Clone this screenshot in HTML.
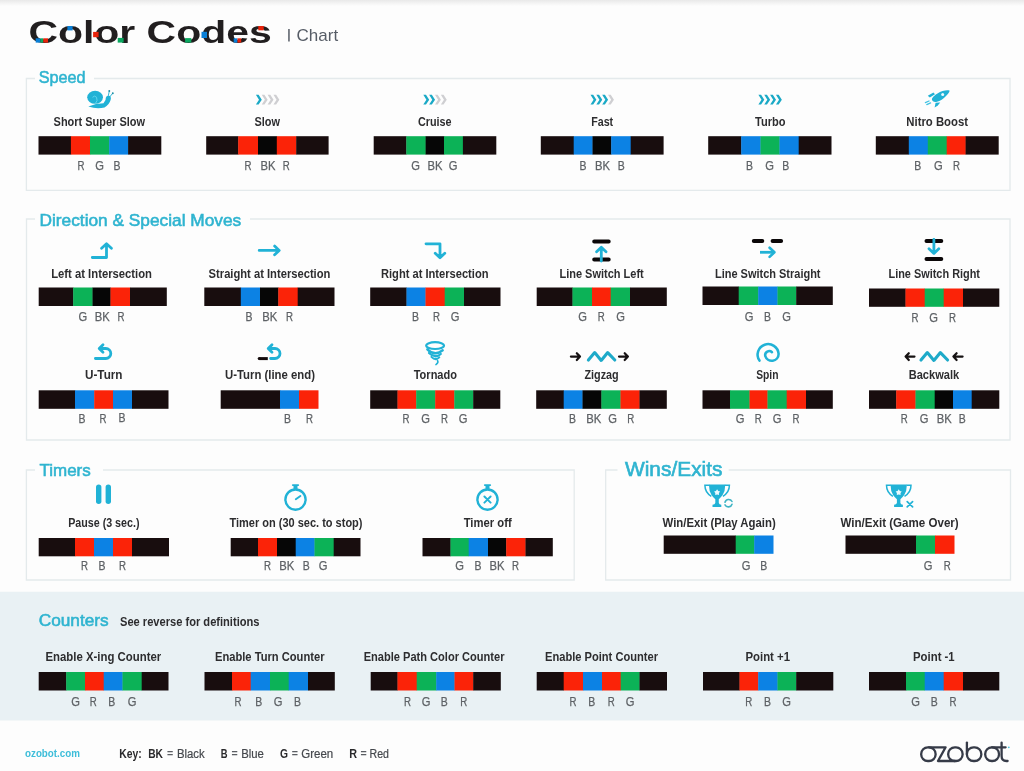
<!DOCTYPE html>
<html><head><meta charset="utf-8"><title>Color Codes Chart</title>
<style>
html,body{margin:0;padding:0;background:#fdfdfd;}
body{width:1024px;height:771px;overflow:hidden;font-family:"Liberation Sans",sans-serif;}
svg{display:block;position:absolute;left:-8px;top:-8px;will-change:transform;filter:blur(0.45px);}
text{font-family:"Liberation Sans",sans-serif;}
.lb{font-size:12px;font-weight:bold;fill:#2d2d2f;}
.lt{font-size:12px;fill:#5e6266;stroke:#5e6266;stroke-width:0.25px;}
.st{font-size:16.2px;fill:#2fb4d0;stroke:#2fb4d0;stroke-width:0.55px;}
.st2{font-size:19.8px;fill:#2fb4d0;stroke:#2fb4d0;stroke-width:0.6px;}
.kb{font-size:12px;font-weight:bold;fill:#2a2a2c;}
.kr{font-size:12px;fill:#45484d;stroke:#45484d;stroke-width:0.2px;}
.ke{font-size:10px;font-weight:bold;fill:#5a5d62;}
.oz{font-size:10.3px;font-weight:bold;fill:#3dbdd9;}
.ch{font-size:15.7px;fill:#565c66;}
.tt{font-size:31px;font-weight:bold;fill:#211e1f;}
</style></head><body>
<svg width="1040" height="787" viewBox="-8 -8 1040 787">
<defs><linearGradient id="tg" x1="0" y1="0" x2="0" y2="1"><stop offset="0" stop-color="#e9e9e9"/><stop offset="1" stop-color="#fdfdfd"/></linearGradient></defs>
<rect x="-8" y="-8" width="1040" height="787" fill="#fdfdfd"/>
<rect x="-8" y="-8" width="1040" height="8.2" fill="#e9e9e9"/>
<rect x="-8" y="0" width="1040" height="6" fill="url(#tg)"/>
<rect x="-8" y="591.75" width="1040" height="128.75" fill="#e9f1f4"/>
<path d="M35 78.5 H26.4 V190.3 H1010 V78.5 H94" fill="none" stroke="#e4eaec" stroke-width="1.3"/>
<path d="M35 219 H26.5 V440 H1010 V219 H250" fill="none" stroke="#e4eaec" stroke-width="1.3"/>
<path d="M35 470 H26.4 V580 H574.2 V470 H103" fill="none" stroke="#e4eaec" stroke-width="1.3"/>
<path d="M617.5 470 H605.7 V580 H1010.5 V470 H728.7" fill="none" stroke="#e4eaec" stroke-width="1.3"/>
<text class="st" x="38.70" y="82.75" textLength="46.90" lengthAdjust="spacingAndGlyphs">Speed</text>
<text class="st" x="39.50" y="225.75" textLength="201.70" lengthAdjust="spacingAndGlyphs">Direction &amp; Special Moves</text>
<text class="st" x="39.50" y="475.75" textLength="51.20" lengthAdjust="spacingAndGlyphs">Timers</text>
<text class="st2" x="625.00" y="475.50" textLength="97.50" lengthAdjust="spacingAndGlyphs">Wins/Exits</text>
<text class="st" x="38.70" y="626.25" textLength="70.00" lengthAdjust="spacingAndGlyphs">Counters</text>
<text class="lb" x="120.00" y="626.25" textLength="139.50" lengthAdjust="spacingAndGlyphs">See reverse for definitions</text>
<rect x="288.2" y="29" width="1.5" height="12.5" fill="#565c66"/>
<text class="ch" x="296.60" y="41.30" textLength="41.60" lengthAdjust="spacingAndGlyphs">Chart</text>
<rect x="38.50" y="136.20" width="32.70" height="18.40" fill="#180d0e"/>
<rect x="70.90" y="136.20" width="19.40" height="18.40" fill="#fb2308"/>
<rect x="90.00" y="136.20" width="19.50" height="18.40" fill="#0cb257"/>
<rect x="109.20" y="136.20" width="19.20" height="18.40" fill="#0c82e4"/>
<rect x="128.10" y="136.20" width="33.20" height="18.40" fill="#180d0e"/>
<text class="lt" x="77.60" y="170.20" textLength="7.00" lengthAdjust="spacingAndGlyphs">R</text>
<text class="lt" x="95.35" y="170.20" textLength="8.70" lengthAdjust="spacingAndGlyphs">G</text>
<text class="lt" x="113.50" y="170.20" textLength="7.00" lengthAdjust="spacingAndGlyphs">B</text>
<rect x="206.20" y="136.20" width="32.30" height="18.40" fill="#180d0e"/>
<rect x="238.20" y="136.20" width="20.10" height="18.40" fill="#fb2308"/>
<rect x="258.00" y="136.20" width="19.10" height="18.40" fill="#060606"/>
<rect x="276.80" y="136.20" width="19.70" height="18.40" fill="#fb2308"/>
<rect x="296.20" y="136.20" width="32.40" height="18.40" fill="#180d0e"/>
<text class="lt" x="244.50" y="170.20" textLength="7.00" lengthAdjust="spacingAndGlyphs">R</text>
<text class="lt" x="260.50" y="170.20" textLength="15.00" lengthAdjust="spacingAndGlyphs">BK</text>
<text class="lt" x="282.70" y="170.20" textLength="7.00" lengthAdjust="spacingAndGlyphs">R</text>
<rect x="373.70" y="136.20" width="32.90" height="18.40" fill="#180d0e"/>
<rect x="406.30" y="136.20" width="19.60" height="18.40" fill="#0cb257"/>
<rect x="425.60" y="136.20" width="18.70" height="18.40" fill="#060606"/>
<rect x="444.00" y="136.20" width="19.20" height="18.40" fill="#0cb257"/>
<rect x="462.90" y="136.20" width="33.40" height="18.40" fill="#180d0e"/>
<text class="lt" x="411.35" y="170.20" textLength="8.70" lengthAdjust="spacingAndGlyphs">G</text>
<text class="lt" x="427.50" y="170.20" textLength="15.00" lengthAdjust="spacingAndGlyphs">BK</text>
<text class="lt" x="448.85" y="170.20" textLength="8.70" lengthAdjust="spacingAndGlyphs">G</text>
<rect x="540.80" y="136.20" width="33.20" height="18.40" fill="#180d0e"/>
<rect x="573.70" y="136.20" width="19.10" height="18.40" fill="#0c82e4"/>
<rect x="592.50" y="136.20" width="19.00" height="18.40" fill="#060606"/>
<rect x="611.20" y="136.20" width="19.80" height="18.40" fill="#0c82e4"/>
<rect x="630.70" y="136.20" width="32.90" height="18.40" fill="#180d0e"/>
<text class="lt" x="579.50" y="170.20" textLength="7.00" lengthAdjust="spacingAndGlyphs">B</text>
<text class="lt" x="595.00" y="170.20" textLength="15.00" lengthAdjust="spacingAndGlyphs">BK</text>
<text class="lt" x="617.70" y="170.20" textLength="7.00" lengthAdjust="spacingAndGlyphs">B</text>
<rect x="708.20" y="136.20" width="33.30" height="18.40" fill="#180d0e"/>
<rect x="741.20" y="136.20" width="19.60" height="18.40" fill="#0c82e4"/>
<rect x="760.50" y="136.20" width="19.30" height="18.40" fill="#0cb257"/>
<rect x="779.50" y="136.20" width="19.50" height="18.40" fill="#0c82e4"/>
<rect x="798.70" y="136.20" width="32.80" height="18.40" fill="#180d0e"/>
<text class="lt" x="746.00" y="170.20" textLength="7.00" lengthAdjust="spacingAndGlyphs">B</text>
<text class="lt" x="765.15" y="170.20" textLength="8.70" lengthAdjust="spacingAndGlyphs">G</text>
<text class="lt" x="782.20" y="170.20" textLength="7.00" lengthAdjust="spacingAndGlyphs">B</text>
<rect x="875.80" y="136.20" width="33.30" height="18.40" fill="#180d0e"/>
<rect x="908.80" y="136.20" width="19.30" height="18.40" fill="#0c82e4"/>
<rect x="927.80" y="136.20" width="19.20" height="18.40" fill="#0cb257"/>
<rect x="946.70" y="136.20" width="19.20" height="18.40" fill="#fb2308"/>
<rect x="965.60" y="136.20" width="33.10" height="18.40" fill="#180d0e"/>
<text class="lt" x="914.20" y="170.20" textLength="7.00" lengthAdjust="spacingAndGlyphs">B</text>
<text class="lt" x="933.95" y="170.20" textLength="8.70" lengthAdjust="spacingAndGlyphs">G</text>
<text class="lt" x="952.90" y="170.20" textLength="7.00" lengthAdjust="spacingAndGlyphs">R</text>
<text class="lb" x="53.60" y="125.80" textLength="91.40" lengthAdjust="spacingAndGlyphs">Short Super Slow</text>
<text class="lb" x="254.50" y="125.80" textLength="25.50" lengthAdjust="spacingAndGlyphs">Slow</text>
<text class="lb" x="418.00" y="125.80" textLength="33.60" lengthAdjust="spacingAndGlyphs">Cruise</text>
<text class="lb" x="591.20" y="125.80" textLength="22.00" lengthAdjust="spacingAndGlyphs">Fast</text>
<text class="lb" x="755.00" y="125.80" textLength="30.50" lengthAdjust="spacingAndGlyphs">Turbo</text>
<text class="lb" x="906.30" y="125.80" textLength="61.70" lengthAdjust="spacingAndGlyphs">Nitro Boost</text>
<rect x="38.70" y="287.50" width="34.80" height="18.50" fill="#180d0e"/>
<rect x="73.20" y="287.50" width="19.60" height="18.50" fill="#0cb257"/>
<rect x="92.50" y="287.50" width="18.30" height="18.50" fill="#060606"/>
<rect x="110.50" y="287.50" width="19.80" height="18.50" fill="#fb2308"/>
<rect x="130.00" y="287.50" width="36.80" height="18.50" fill="#180d0e"/>
<text class="lt" x="78.55" y="321.25" textLength="8.70" lengthAdjust="spacingAndGlyphs">G</text>
<text class="lt" x="94.70" y="321.25" textLength="15.00" lengthAdjust="spacingAndGlyphs">BK</text>
<text class="lt" x="117.50" y="321.25" textLength="7.00" lengthAdjust="spacingAndGlyphs">R</text>
<rect x="204.30" y="287.50" width="36.80" height="18.50" fill="#180d0e"/>
<rect x="240.80" y="287.50" width="19.50" height="18.50" fill="#0c82e4"/>
<rect x="260.00" y="287.50" width="18.60" height="18.50" fill="#060606"/>
<rect x="278.30" y="287.50" width="19.70" height="18.50" fill="#fb2308"/>
<rect x="297.70" y="287.50" width="36.80" height="18.50" fill="#180d0e"/>
<text class="lt" x="245.50" y="321.25" textLength="7.00" lengthAdjust="spacingAndGlyphs">B</text>
<text class="lt" x="262.20" y="321.25" textLength="15.00" lengthAdjust="spacingAndGlyphs">BK</text>
<text class="lt" x="286.10" y="321.25" textLength="7.00" lengthAdjust="spacingAndGlyphs">R</text>
<rect x="370.20" y="287.50" width="36.60" height="18.50" fill="#180d0e"/>
<rect x="406.50" y="287.50" width="19.30" height="18.50" fill="#0c82e4"/>
<rect x="425.50" y="287.50" width="19.50" height="18.50" fill="#fb2308"/>
<rect x="444.70" y="287.50" width="19.60" height="18.50" fill="#0cb257"/>
<rect x="464.00" y="287.50" width="36.50" height="18.50" fill="#180d0e"/>
<text class="lt" x="411.90" y="321.25" textLength="7.00" lengthAdjust="spacingAndGlyphs">B</text>
<text class="lt" x="432.90" y="321.25" textLength="7.00" lengthAdjust="spacingAndGlyphs">R</text>
<text class="lt" x="450.75" y="321.25" textLength="8.70" lengthAdjust="spacingAndGlyphs">G</text>
<rect x="536.70" y="287.50" width="36.10" height="18.50" fill="#180d0e"/>
<rect x="572.50" y="287.50" width="19.80" height="18.50" fill="#0cb257"/>
<rect x="592.00" y="287.50" width="19.00" height="18.50" fill="#fb2308"/>
<rect x="610.70" y="287.50" width="19.60" height="18.50" fill="#0cb257"/>
<rect x="630.00" y="287.50" width="36.80" height="18.50" fill="#180d0e"/>
<text class="lt" x="578.15" y="321.25" textLength="8.70" lengthAdjust="spacingAndGlyphs">G</text>
<text class="lt" x="597.70" y="321.25" textLength="7.00" lengthAdjust="spacingAndGlyphs">R</text>
<text class="lt" x="616.15" y="321.25" textLength="8.70" lengthAdjust="spacingAndGlyphs">G</text>
<rect x="702.50" y="286.50" width="36.50" height="18.50" fill="#180d0e"/>
<rect x="738.70" y="286.50" width="19.80" height="18.50" fill="#0cb257"/>
<rect x="758.20" y="286.50" width="19.60" height="18.50" fill="#0c82e4"/>
<rect x="777.50" y="286.50" width="19.00" height="18.50" fill="#0cb257"/>
<rect x="796.20" y="286.50" width="36.60" height="18.50" fill="#180d0e"/>
<text class="lt" x="744.85" y="320.50" textLength="8.70" lengthAdjust="spacingAndGlyphs">G</text>
<text class="lt" x="764.00" y="320.50" textLength="7.00" lengthAdjust="spacingAndGlyphs">B</text>
<text class="lt" x="782.35" y="320.50" textLength="8.70" lengthAdjust="spacingAndGlyphs">G</text>
<rect x="869.00" y="288.50" width="36.80" height="18.30" fill="#180d0e"/>
<rect x="905.50" y="288.50" width="19.50" height="18.30" fill="#fb2308"/>
<rect x="924.70" y="288.50" width="19.30" height="18.30" fill="#0cb257"/>
<rect x="943.70" y="288.50" width="19.60" height="18.30" fill="#fb2308"/>
<rect x="963.00" y="288.50" width="36.30" height="18.30" fill="#180d0e"/>
<text class="lt" x="911.50" y="322.00" textLength="7.00" lengthAdjust="spacingAndGlyphs">R</text>
<text class="lt" x="929.35" y="322.00" textLength="8.70" lengthAdjust="spacingAndGlyphs">G</text>
<text class="lt" x="949.00" y="322.00" textLength="7.00" lengthAdjust="spacingAndGlyphs">R</text>
<text class="lb" x="51.20" y="278.25" textLength="100.80" lengthAdjust="spacingAndGlyphs">Left at Intersection</text>
<text class="lb" x="208.60" y="278.25" textLength="121.80" lengthAdjust="spacingAndGlyphs">Straight at Intersection</text>
<text class="lb" x="381.00" y="278.25" textLength="107.50" lengthAdjust="spacingAndGlyphs">Right at Intersection</text>
<text class="lb" x="559.50" y="278.25" textLength="84.20" lengthAdjust="spacingAndGlyphs">Line Switch Left</text>
<text class="lb" x="715.00" y="278.25" textLength="105.50" lengthAdjust="spacingAndGlyphs">Line Switch Straight</text>
<text class="lb" x="888.50" y="278.25" textLength="91.50" lengthAdjust="spacingAndGlyphs">Line Switch Right</text>
<rect x="38.70" y="390.30" width="36.60" height="18.50" fill="#180d0e"/>
<rect x="75.00" y="390.30" width="19.50" height="18.50" fill="#0c82e4"/>
<rect x="94.20" y="390.30" width="19.10" height="18.50" fill="#fb2308"/>
<rect x="113.00" y="390.30" width="19.30" height="18.50" fill="#0c82e4"/>
<rect x="132.00" y="390.30" width="36.50" height="18.50" fill="#180d0e"/>
<text class="lt" x="78.50" y="422.50" textLength="7.00" lengthAdjust="spacingAndGlyphs">B</text>
<text class="lt" x="99.50" y="422.50" textLength="7.00" lengthAdjust="spacingAndGlyphs">R</text>
<text class="lt" x="118.50" y="421.50" textLength="7.00" lengthAdjust="spacingAndGlyphs">B</text>
<rect x="220.70" y="390.30" width="59.60" height="18.50" fill="#180d0e"/>
<rect x="280.00" y="390.30" width="19.30" height="18.50" fill="#0c82e4"/>
<rect x="299.00" y="390.30" width="19.50" height="18.50" fill="#fb2308"/>
<text class="lt" x="284.00" y="422.50" textLength="7.00" lengthAdjust="spacingAndGlyphs">B</text>
<text class="lt" x="306.00" y="422.50" textLength="7.00" lengthAdjust="spacingAndGlyphs">R</text>
<rect x="370.20" y="390.30" width="27.60" height="18.50" fill="#180d0e"/>
<rect x="397.50" y="390.30" width="19.00" height="18.50" fill="#fb2308"/>
<rect x="416.20" y="390.30" width="19.30" height="18.50" fill="#0cb257"/>
<rect x="435.20" y="390.30" width="19.40" height="18.50" fill="#fb2308"/>
<rect x="454.30" y="390.30" width="19.20" height="18.50" fill="#0cb257"/>
<rect x="473.20" y="390.30" width="27.10" height="18.50" fill="#180d0e"/>
<text class="lt" x="402.50" y="422.50" textLength="7.00" lengthAdjust="spacingAndGlyphs">R</text>
<text class="lt" x="421.15" y="422.50" textLength="8.70" lengthAdjust="spacingAndGlyphs">G</text>
<text class="lt" x="441.00" y="422.50" textLength="7.00" lengthAdjust="spacingAndGlyphs">R</text>
<text class="lt" x="458.85" y="422.50" textLength="8.70" lengthAdjust="spacingAndGlyphs">G</text>
<rect x="536.20" y="390.30" width="27.80" height="18.50" fill="#180d0e"/>
<rect x="563.70" y="390.30" width="19.10" height="18.50" fill="#0c82e4"/>
<rect x="582.50" y="390.30" width="19.20" height="18.50" fill="#060606"/>
<rect x="601.40" y="390.30" width="19.40" height="18.50" fill="#0cb257"/>
<rect x="620.50" y="390.30" width="19.30" height="18.50" fill="#fb2308"/>
<rect x="639.50" y="390.30" width="27.30" height="18.50" fill="#180d0e"/>
<text class="lt" x="569.00" y="422.50" textLength="7.00" lengthAdjust="spacingAndGlyphs">B</text>
<text class="lt" x="586.20" y="422.50" textLength="15.00" lengthAdjust="spacingAndGlyphs">BK</text>
<text class="lt" x="608.15" y="422.50" textLength="8.70" lengthAdjust="spacingAndGlyphs">G</text>
<text class="lt" x="627.20" y="422.50" textLength="7.00" lengthAdjust="spacingAndGlyphs">R</text>
<rect x="702.50" y="390.30" width="27.80" height="18.50" fill="#180d0e"/>
<rect x="730.00" y="390.30" width="19.80" height="18.50" fill="#0cb257"/>
<rect x="749.50" y="390.30" width="18.30" height="18.50" fill="#fb2308"/>
<rect x="767.50" y="390.30" width="19.50" height="18.50" fill="#0cb257"/>
<rect x="786.70" y="390.30" width="19.60" height="18.50" fill="#fb2308"/>
<rect x="806.00" y="390.30" width="26.80" height="18.50" fill="#180d0e"/>
<text class="lt" x="735.65" y="422.50" textLength="8.70" lengthAdjust="spacingAndGlyphs">G</text>
<text class="lt" x="754.70" y="422.50" textLength="7.00" lengthAdjust="spacingAndGlyphs">R</text>
<text class="lt" x="772.85" y="422.50" textLength="8.70" lengthAdjust="spacingAndGlyphs">G</text>
<text class="lt" x="792.50" y="422.50" textLength="7.00" lengthAdjust="spacingAndGlyphs">R</text>
<rect x="869.00" y="390.30" width="27.50" height="18.50" fill="#180d0e"/>
<rect x="896.20" y="390.30" width="19.60" height="18.50" fill="#fb2308"/>
<rect x="915.50" y="390.30" width="19.50" height="18.50" fill="#0cb257"/>
<rect x="934.70" y="390.30" width="18.60" height="18.50" fill="#060606"/>
<rect x="953.00" y="390.30" width="19.00" height="18.50" fill="#0c82e4"/>
<rect x="971.70" y="390.30" width="27.60" height="18.50" fill="#180d0e"/>
<text class="lt" x="900.70" y="422.50" textLength="7.00" lengthAdjust="spacingAndGlyphs">R</text>
<text class="lt" x="919.85" y="422.50" textLength="8.70" lengthAdjust="spacingAndGlyphs">G</text>
<text class="lt" x="936.70" y="422.50" textLength="15.00" lengthAdjust="spacingAndGlyphs">BK</text>
<text class="lt" x="958.70" y="422.50" textLength="7.00" lengthAdjust="spacingAndGlyphs">B</text>
<text class="lb" x="85.00" y="379.25" textLength="37.50" lengthAdjust="spacingAndGlyphs">U-Turn</text>
<text class="lb" x="225.00" y="379.25" textLength="90.00" lengthAdjust="spacingAndGlyphs">U-Turn (line end)</text>
<text class="lb" x="413.70" y="379.25" textLength="43.30" lengthAdjust="spacingAndGlyphs">Tornado</text>
<text class="lb" x="584.50" y="379.25" textLength="34.20" lengthAdjust="spacingAndGlyphs">Zigzag</text>
<text class="lb" x="756.20" y="379.25" textLength="22.30" lengthAdjust="spacingAndGlyphs">Spin</text>
<text class="lb" x="908.70" y="379.25" textLength="50.50" lengthAdjust="spacingAndGlyphs">Backwalk</text>
<rect x="38.70" y="538.00" width="36.60" height="18.30" fill="#180d0e"/>
<rect x="75.00" y="538.00" width="19.30" height="18.30" fill="#fb2308"/>
<rect x="94.00" y="538.00" width="19.30" height="18.30" fill="#0c82e4"/>
<rect x="113.00" y="538.00" width="19.30" height="18.30" fill="#fb2308"/>
<rect x="132.00" y="538.00" width="37.00" height="18.30" fill="#180d0e"/>
<text class="lt" x="81.00" y="570.00" textLength="7.00" lengthAdjust="spacingAndGlyphs">R</text>
<text class="lt" x="98.50" y="570.00" textLength="7.00" lengthAdjust="spacingAndGlyphs">B</text>
<text class="lt" x="119.00" y="570.00" textLength="7.00" lengthAdjust="spacingAndGlyphs">R</text>
<rect x="230.70" y="538.00" width="27.60" height="18.30" fill="#180d0e"/>
<rect x="258.00" y="538.00" width="19.30" height="18.30" fill="#fb2308"/>
<rect x="277.00" y="538.00" width="19.00" height="18.30" fill="#060606"/>
<rect x="295.70" y="538.00" width="19.10" height="18.30" fill="#0c82e4"/>
<rect x="314.50" y="538.00" width="19.50" height="18.30" fill="#0cb257"/>
<rect x="333.70" y="538.00" width="26.80" height="18.30" fill="#180d0e"/>
<text class="lt" x="264.00" y="570.00" textLength="7.00" lengthAdjust="spacingAndGlyphs">R</text>
<text class="lt" x="279.20" y="570.00" textLength="15.00" lengthAdjust="spacingAndGlyphs">BK</text>
<text class="lt" x="302.70" y="570.00" textLength="7.00" lengthAdjust="spacingAndGlyphs">B</text>
<text class="lt" x="318.85" y="570.00" textLength="8.70" lengthAdjust="spacingAndGlyphs">G</text>
<rect x="422.50" y="538.00" width="28.30" height="18.30" fill="#180d0e"/>
<rect x="450.50" y="538.00" width="18.50" height="18.30" fill="#0cb257"/>
<rect x="468.70" y="538.00" width="19.60" height="18.30" fill="#0c82e4"/>
<rect x="488.00" y="538.00" width="18.50" height="18.30" fill="#060606"/>
<rect x="506.20" y="538.00" width="19.60" height="18.30" fill="#fb2308"/>
<rect x="525.50" y="538.00" width="27.30" height="18.30" fill="#180d0e"/>
<text class="lt" x="455.15" y="570.00" textLength="8.70" lengthAdjust="spacingAndGlyphs">G</text>
<text class="lt" x="474.50" y="570.00" textLength="7.00" lengthAdjust="spacingAndGlyphs">B</text>
<text class="lt" x="489.50" y="570.00" textLength="15.00" lengthAdjust="spacingAndGlyphs">BK</text>
<text class="lt" x="512.00" y="570.00" textLength="7.00" lengthAdjust="spacingAndGlyphs">R</text>
<rect x="663.70" y="535.50" width="72.30" height="18.30" fill="#180d0e"/>
<rect x="735.70" y="535.50" width="18.80" height="18.30" fill="#0cb257"/>
<rect x="754.20" y="535.50" width="19.30" height="18.30" fill="#0c82e4"/>
<text class="lt" x="741.85" y="570.00" textLength="8.70" lengthAdjust="spacingAndGlyphs">G</text>
<text class="lt" x="760.20" y="570.00" textLength="7.00" lengthAdjust="spacingAndGlyphs">B</text>
<rect x="845.50" y="535.50" width="70.80" height="18.30" fill="#180d0e"/>
<rect x="916.00" y="535.50" width="19.30" height="18.30" fill="#0cb257"/>
<rect x="935.00" y="535.50" width="19.50" height="18.30" fill="#fb2308"/>
<text class="lt" x="923.65" y="570.00" textLength="8.70" lengthAdjust="spacingAndGlyphs">G</text>
<text class="lt" x="943.70" y="570.00" textLength="7.00" lengthAdjust="spacingAndGlyphs">R</text>
<text class="lb" x="68.20" y="527.00" textLength="71.30" lengthAdjust="spacingAndGlyphs">Pause (3 sec.)</text>
<text class="lb" x="229.50" y="527.00" textLength="133.00" lengthAdjust="spacingAndGlyphs">Timer on (30 sec. to stop)</text>
<text class="lb" x="463.70" y="527.00" textLength="48.00" lengthAdjust="spacingAndGlyphs">Timer off</text>
<text class="lb" x="662.50" y="527.00" textLength="113.20" lengthAdjust="spacingAndGlyphs">Win/Exit (Play Again)</text>
<text class="lb" x="840.50" y="527.00" textLength="118.20" lengthAdjust="spacingAndGlyphs">Win/Exit (Game Over)</text>
<rect x="38.70" y="672.00" width="27.80" height="18.50" fill="#180d0e"/>
<rect x="66.20" y="672.00" width="19.10" height="18.50" fill="#0cb257"/>
<rect x="85.00" y="672.00" width="19.00" height="18.50" fill="#fb2308"/>
<rect x="103.70" y="672.00" width="19.10" height="18.50" fill="#0c82e4"/>
<rect x="122.50" y="672.00" width="19.50" height="18.50" fill="#0cb257"/>
<rect x="141.70" y="672.00" width="26.80" height="18.50" fill="#180d0e"/>
<text class="lt" x="71.15" y="705.80" textLength="8.70" lengthAdjust="spacingAndGlyphs">G</text>
<text class="lt" x="89.70" y="705.80" textLength="7.00" lengthAdjust="spacingAndGlyphs">R</text>
<text class="lt" x="108.20" y="705.80" textLength="7.00" lengthAdjust="spacingAndGlyphs">B</text>
<text class="lt" x="127.65" y="705.80" textLength="8.70" lengthAdjust="spacingAndGlyphs">G</text>
<rect x="204.50" y="672.00" width="27.80" height="18.50" fill="#180d0e"/>
<rect x="232.00" y="672.00" width="19.00" height="18.50" fill="#fb2308"/>
<rect x="250.70" y="672.00" width="19.60" height="18.50" fill="#0c82e4"/>
<rect x="270.00" y="672.00" width="19.00" height="18.50" fill="#0cb257"/>
<rect x="288.70" y="672.00" width="19.60" height="18.50" fill="#0c82e4"/>
<rect x="308.00" y="672.00" width="26.80" height="18.50" fill="#180d0e"/>
<text class="lt" x="234.50" y="705.80" textLength="7.00" lengthAdjust="spacingAndGlyphs">R</text>
<text class="lt" x="255.20" y="705.80" textLength="7.00" lengthAdjust="spacingAndGlyphs">B</text>
<text class="lt" x="273.65" y="705.80" textLength="8.70" lengthAdjust="spacingAndGlyphs">G</text>
<text class="lt" x="294.00" y="705.80" textLength="7.00" lengthAdjust="spacingAndGlyphs">B</text>
<rect x="370.70" y="672.00" width="27.10" height="18.50" fill="#180d0e"/>
<rect x="397.50" y="672.00" width="19.50" height="18.50" fill="#fb2308"/>
<rect x="416.70" y="672.00" width="19.80" height="18.50" fill="#0cb257"/>
<rect x="436.20" y="672.00" width="18.60" height="18.50" fill="#0c82e4"/>
<rect x="454.50" y="672.00" width="19.00" height="18.50" fill="#fb2308"/>
<rect x="473.20" y="672.00" width="27.60" height="18.50" fill="#180d0e"/>
<text class="lt" x="404.00" y="705.80" textLength="7.00" lengthAdjust="spacingAndGlyphs">R</text>
<text class="lt" x="421.85" y="705.80" textLength="8.70" lengthAdjust="spacingAndGlyphs">G</text>
<text class="lt" x="440.70" y="705.80" textLength="7.00" lengthAdjust="spacingAndGlyphs">B</text>
<text class="lt" x="460.20" y="705.80" textLength="7.00" lengthAdjust="spacingAndGlyphs">R</text>
<rect x="536.70" y="672.00" width="27.30" height="18.50" fill="#180d0e"/>
<rect x="563.70" y="672.00" width="19.60" height="18.50" fill="#fb2308"/>
<rect x="583.00" y="672.00" width="19.30" height="18.50" fill="#0c82e4"/>
<rect x="602.00" y="672.00" width="19.00" height="18.50" fill="#fb2308"/>
<rect x="620.70" y="672.00" width="19.10" height="18.50" fill="#0cb257"/>
<rect x="639.50" y="672.00" width="27.50" height="18.50" fill="#180d0e"/>
<text class="lt" x="569.50" y="705.80" textLength="7.00" lengthAdjust="spacingAndGlyphs">R</text>
<text class="lt" x="588.20" y="705.80" textLength="7.00" lengthAdjust="spacingAndGlyphs">B</text>
<text class="lt" x="607.70" y="705.80" textLength="7.00" lengthAdjust="spacingAndGlyphs">R</text>
<text class="lt" x="625.65" y="705.80" textLength="8.70" lengthAdjust="spacingAndGlyphs">G</text>
<rect x="703.00" y="672.00" width="36.80" height="18.50" fill="#180d0e"/>
<rect x="739.50" y="672.00" width="19.00" height="18.50" fill="#fb2308"/>
<rect x="758.20" y="672.00" width="19.60" height="18.50" fill="#0c82e4"/>
<rect x="777.50" y="672.00" width="19.00" height="18.50" fill="#0cb257"/>
<rect x="796.20" y="672.00" width="37.10" height="18.50" fill="#180d0e"/>
<text class="lt" x="745.20" y="705.80" textLength="7.00" lengthAdjust="spacingAndGlyphs">R</text>
<text class="lt" x="764.00" y="705.80" textLength="7.00" lengthAdjust="spacingAndGlyphs">B</text>
<text class="lt" x="782.35" y="705.80" textLength="8.70" lengthAdjust="spacingAndGlyphs">G</text>
<rect x="869.00" y="672.00" width="37.30" height="18.50" fill="#180d0e"/>
<rect x="906.00" y="672.00" width="19.00" height="18.50" fill="#0cb257"/>
<rect x="924.70" y="672.00" width="19.30" height="18.50" fill="#0c82e4"/>
<rect x="943.70" y="672.00" width="19.60" height="18.50" fill="#fb2308"/>
<rect x="963.00" y="672.00" width="36.30" height="18.50" fill="#180d0e"/>
<text class="lt" x="911.15" y="705.80" textLength="8.70" lengthAdjust="spacingAndGlyphs">G</text>
<text class="lt" x="930.70" y="705.80" textLength="7.00" lengthAdjust="spacingAndGlyphs">B</text>
<text class="lt" x="949.50" y="705.80" textLength="7.00" lengthAdjust="spacingAndGlyphs">R</text>
<text class="lb" x="45.50" y="661.25" textLength="115.70" lengthAdjust="spacingAndGlyphs">Enable X-ing  Counter</text>
<text class="lb" x="215.00" y="661.25" textLength="109.50" lengthAdjust="spacingAndGlyphs">Enable Turn Counter</text>
<text class="lb" x="363.70" y="661.25" textLength="140.80" lengthAdjust="spacingAndGlyphs">Enable Path Color Counter</text>
<text class="lb" x="545.00" y="661.25" textLength="113.00" lengthAdjust="spacingAndGlyphs">Enable Point Counter</text>
<text class="lb" x="745.50" y="661.25" textLength="44.50" lengthAdjust="spacingAndGlyphs">Point +1</text>
<text class="lb" x="913.00" y="661.25" textLength="41.70" lengthAdjust="spacingAndGlyphs">Point -1</text>
<text class="oz" x="25.00" y="757.00" textLength="55.00" lengthAdjust="spacingAndGlyphs">ozobot.com</text>
<text class="kb" x="119.20" y="758.00" textLength="22.50" lengthAdjust="spacingAndGlyphs">Key:</text>
<text class="kb" x="148.20" y="758.00" textLength="14.80" lengthAdjust="spacingAndGlyphs">BK</text>
<text class="ke" x="166.90" y="757.40" textLength="6.20" lengthAdjust="spacingAndGlyphs">=</text>
<text class="kr" x="177.00" y="758.00" textLength="27.70" lengthAdjust="spacingAndGlyphs">Black</text>
<text class="kb" x="220.70" y="758.00" textLength="6.80" lengthAdjust="spacingAndGlyphs">B</text>
<text class="ke" x="231.60" y="757.40" textLength="6.20" lengthAdjust="spacingAndGlyphs">=</text>
<text class="kr" x="241.20" y="758.00" textLength="22.70" lengthAdjust="spacingAndGlyphs">Blue</text>
<text class="kb" x="280.00" y="758.00" textLength="8.00" lengthAdjust="spacingAndGlyphs">G</text>
<text class="ke" x="291.70" y="757.40" textLength="6.20" lengthAdjust="spacingAndGlyphs">=</text>
<text class="kr" x="301.20" y="758.00" textLength="32.00" lengthAdjust="spacingAndGlyphs">Green</text>
<text class="kb" x="349.20" y="758.00" textLength="7.80" lengthAdjust="spacingAndGlyphs">R</text>
<text class="ke" x="360.60" y="757.40" textLength="6.20" lengthAdjust="spacingAndGlyphs">=</text>
<text class="kr" x="369.50" y="758.00" textLength="19.40" lengthAdjust="spacingAndGlyphs">Red</text>
<text class="tt" x="28.40" y="42.60" textLength="243.30" lengthAdjust="spacingAndGlyphs">Color Codes</text>
<rect x="35.7" y="38.3" width="4.70" height="4.30" fill="#0a7fd6"/>
<rect x="40.4" y="38.3" width="2.90" height="4.30" fill="#0aa860"/>
<rect x="43.3" y="38.3" width="4.70" height="4.30" fill="#e8220a"/>
<rect x="67.4" y="26" width="5.20" height="4.40" fill="#0a7fd6"/>
<rect x="93.1" y="31.9" width="5.50" height="5.30" fill="#e8220a"/>
<rect x="117.7" y="37.9" width="5.90" height="4.70" fill="#0aa860"/>
<rect x="185.1" y="38.1" width="6.20" height="4.50" fill="#0aa860"/>
<rect x="201.5" y="31.8" width="5.50" height="6.20" fill="#0a7fd6"/>
<rect x="233.7" y="38.3" width="3.80" height="4.30" fill="#0a7fd6"/>
<rect x="237.5" y="38.3" width="3.70" height="4.30" fill="#e8220a"/>
<rect x="258.3" y="26" width="5.40" height="4.30" fill="#e8220a"/>
<ellipse cx="95.1" cy="97.3" rx="7.9" ry="6.5" fill="#21b2d6"/>
<path d="M88.3 106.6 Q96 103.2 103.5 103.2 Q106.3 100.5 105.8 97.8 Q106.3 95.3 109.2 95.8 Q111.6 96.6 110.6 100 Q109 105.2 104.5 107.4 Q97 109.2 88.3 106.6 Z" fill="#21b2d6"/>
<path d="M108.2 96 L109.2 91.6 M110 96.6 L112.4 93.6" fill="none" stroke="#21b2d6" stroke-width="0.9" stroke-linecap="round" stroke-linejoin="round"/>
<circle cx="109.3" cy="91" r="0.95" fill="#1b8fa8"/><circle cx="112.8" cy="93.2" r="0.95" fill="#1b8fa8"/>
<path d="M95.5 103.5 Q98.3 100.5 96.5 97.2 Q94.5 95 92.8 97" fill="none" stroke="#5fd3ec" stroke-width="1.0" stroke-linecap="round" stroke-linejoin="round"/>
<path d="M255.90 94.8 H258.60 L261.80 99.7 L258.60 104.6 H255.90 L259.00 99.7 Z" fill="#1aa9c6"/>
<path d="M261.75 94.8 H264.45 L267.65 99.7 L264.45 104.6 H261.75 L264.85 99.7 Z" fill="#cfcfd2"/>
<path d="M267.60 94.8 H270.30 L273.50 99.7 L270.30 104.6 H267.60 L270.70 99.7 Z" fill="#cfcfd2"/>
<path d="M273.45 94.8 H276.15 L279.35 99.7 L276.15 104.6 H273.45 L276.55 99.7 Z" fill="#cfcfd2"/>
<path d="M423.30 94.8 H426.00 L429.20 99.7 L426.00 104.6 H423.30 L426.40 99.7 Z" fill="#1aa9c6"/>
<path d="M429.15 94.8 H431.85 L435.05 99.7 L431.85 104.6 H429.15 L432.25 99.7 Z" fill="#1aa9c6"/>
<path d="M435.00 94.8 H437.70 L440.90 99.7 L437.70 104.6 H435.00 L438.10 99.7 Z" fill="#cfcfd2"/>
<path d="M440.85 94.8 H443.55 L446.75 99.7 L443.55 104.6 H440.85 L443.95 99.7 Z" fill="#cfcfd2"/>
<path d="M590.50 94.8 H593.20 L596.40 99.7 L593.20 104.6 H590.50 L593.60 99.7 Z" fill="#1aa9c6"/>
<path d="M596.35 94.8 H599.05 L602.25 99.7 L599.05 104.6 H596.35 L599.45 99.7 Z" fill="#1aa9c6"/>
<path d="M602.20 94.8 H604.90 L608.10 99.7 L604.90 104.6 H602.20 L605.30 99.7 Z" fill="#1aa9c6"/>
<path d="M608.05 94.8 H610.75 L613.95 99.7 L610.75 104.6 H608.05 L611.15 99.7 Z" fill="#cfcfd2"/>
<path d="M758.40 94.8 H761.10 L764.30 99.7 L761.10 104.6 H758.40 L761.50 99.7 Z" fill="#1aa9c6"/>
<path d="M764.25 94.8 H766.95 L770.15 99.7 L766.95 104.6 H764.25 L767.35 99.7 Z" fill="#1aa9c6"/>
<path d="M770.10 94.8 H772.80 L776.00 99.7 L772.80 104.6 H770.10 L773.20 99.7 Z" fill="#1aa9c6"/>
<path d="M775.95 94.8 H778.65 L781.85 99.7 L778.65 104.6 H775.95 L779.05 99.7 Z" fill="#1aa9c6"/>
<path d="M949.5 90.6 C946.5 89.8 941.5 91 937.5 93.5 C935 95 933.5 96.3 932.3 98 C931.5 99.2 932 100.5 933 101.3 C934 102.2 935.5 102.3 937 101.8 C940 101 943.5 99 946 96 C948.5 93.5 949.8 91.8 949.5 90.6 Z" fill="#21b2d6"/>
<circle cx="942.7" cy="94.5" r="1.5" fill="#eafaff"/>
<path d="M927.8 95.8 L933.4 92.6 L935 94.2 L929.8 97.4 Z" fill="#21b2d6"/>
<path d="M934.6 107.6 L935.6 102.8 L940.2 102.4 L937.6 105.8 Z" fill="#21b2d6"/>
<path d="M925.4 102.6 L929 101 M926.8 104.6 L930.6 102.9" fill="none" stroke="#43c3e3" stroke-width="1.3" stroke-linecap="round" stroke-linejoin="round"/>
<path d="M92.3 257.5 H106.5 V244.4 M101.6 248.2 L106.5 243.7 L111.4 248.2" fill="none" stroke="#21b2d6" stroke-width="2.8" stroke-linecap="round" stroke-linejoin="round"/>
<path d="M259.2 250.4 H279 M274.6 246.1 L279.2 250.4 L274.6 254.7" fill="none" stroke="#21b2d6" stroke-width="2.8" stroke-linecap="round" stroke-linejoin="round"/>
<path d="M426 243.8 H440 V257.2 M435.2 253.2 L440 257.8 L444.8 253.2" fill="none" stroke="#21b2d6" stroke-width="2.8" stroke-linecap="round" stroke-linejoin="round"/>
<path d="M594.2 241.5 H608.7 M594.2 259.5 H608.7" fill="none" stroke="#0b0708" stroke-width="4" stroke-linecap="round" stroke-linejoin="round"/>
<path d="M601.3 261 V247.8 M596.6 251.8 L601.3 247.3 L606 251.8" fill="none" stroke="#21b2d6" stroke-width="2.8" stroke-linecap="round" stroke-linejoin="round"/>
<path d="M753.8 240.9 H762.3 M772.6 240.9 H781.1" fill="none" stroke="#0b0708" stroke-width="4" stroke-linecap="round" stroke-linejoin="round"/>
<path d="M760 252.3 H774" fill="none" stroke="#21b2d6" stroke-width="2.8" stroke-linecap="butt" stroke-linejoin="round"/>
<path d="M769.6 247.7 L774.4 252.3 L769.6 256.9" fill="none" stroke="#21b2d6" stroke-width="2.6" stroke-linecap="round" stroke-linejoin="round"/>
<path d="M926.5 241.1 H941.3 M926.5 259.1 H941.3" fill="none" stroke="#0b0708" stroke-width="4" stroke-linecap="round" stroke-linejoin="round"/>
<path d="M933.9 239.4 V252.8 M929 248.8 L933.9 253.4 L938.8 248.8" fill="none" stroke="#21b2d6" stroke-width="2.8" stroke-linecap="round" stroke-linejoin="round"/>
<path d="M95.4 358.5 H105.8 A5 5 0 0 0 105.8 348.5 H99.8 M103 344.7 L99.2 348.5 L103 352.3" fill="none" stroke="#21b2d6" stroke-width="2.8" stroke-linecap="round" stroke-linejoin="round"/>
<path d="M259.2 358.6 H267.8" fill="none" stroke="#140b0c" stroke-width="3" stroke-linecap="butt" stroke-linejoin="round"/>
<circle cx="259.2" cy="358.6" r="1.5" fill="#140b0c"/>
<path d="M270.6 358.5 H275 A5 5 0 0 0 275 348.5 H268.8 M272 344.7 L268.2 348.5 L272 352.3" fill="none" stroke="#21b2d6" stroke-width="2.8" stroke-linecap="round" stroke-linejoin="round"/>
<ellipse cx="435.1" cy="345.6" rx="8.9" ry="3.4" fill="none" stroke="#21b2d6" stroke-width="2.2"/>
<path d="M427.3 349.3 Q435 356.6 442.7 350.3" fill="none" stroke="#21b2d6" stroke-width="2.4" stroke-linecap="round" stroke-linejoin="round"/>
<path d="M429 353 Q435.2 359 440.8 354" fill="none" stroke="#21b2d6" stroke-width="2.2" stroke-linecap="round" stroke-linejoin="round"/>
<path d="M431.4 356.9 Q435.6 361 439.3 357.4" fill="none" stroke="#21b2d6" stroke-width="2.0" stroke-linecap="round" stroke-linejoin="round"/>
<path d="M437.4 360.2 Q439 362.6 435.9 364.7" fill="none" stroke="#21b2d6" stroke-width="1.5" stroke-linecap="round" stroke-linejoin="round"/>
<path d="M570.9 356.6 H579.8 M576.8 353.20000000000005 L580.0 356.6 L576.8 360.0" fill="none" stroke="#161213" stroke-width="2.2" stroke-linecap="round" stroke-linejoin="round"/>
<path d="M619 356.6 H627.6999999999999 M624.6999999999999 353.20000000000005 L627.9 356.6 L624.6999999999999 360.0" fill="none" stroke="#161213" stroke-width="2.2" stroke-linecap="round" stroke-linejoin="round"/>
<path d="M588.4 360 L594.7 352.6 L601.2 360.4 L607.7 352.6 L614.8 360" fill="none" stroke="#1eaac9" stroke-width="3.1" stroke-linecap="round" stroke-linejoin="round"/>
<path d="M914.5 356.6 H905.8000000000001 M908.8000000000001 353.20000000000005 L905.6 356.6 L908.8000000000001 360.0" fill="none" stroke="#161213" stroke-width="2.2" stroke-linecap="round" stroke-linejoin="round"/>
<path d="M962.6 356.6 H953.6 M956.6 353.20000000000005 L953.4 356.6 L956.6 360.0" fill="none" stroke="#161213" stroke-width="2.2" stroke-linecap="round" stroke-linejoin="round"/>
<path d="M921 360 L927.3 352.6 L933.9 360.4 L940.4 352.6 L947.6 360" fill="none" stroke="#1eaac9" stroke-width="3.1" stroke-linecap="round" stroke-linejoin="round"/>
<path d="M759.5 360.6 A10.5 10.5 0 1 1 778.6 353.9 A6.85 6.85 0 0 1 765.2 355.9 A4.1 4.1 0 0 1 772 352.2" fill="none" stroke="#21b2d6" stroke-width="2.55" stroke-linecap="round" stroke-linejoin="round"/>
<rect x="96" y="484.4" width="5.4" height="19.5" rx="2.7" fill="#21b2d6"/><rect x="105.6" y="484.4" width="5.4" height="19.5" rx="2.7" fill="#21b2d6"/>
<circle cx="295.5" cy="499.6" r="10.1" fill="none" stroke="#21b2d6" stroke-width="2.4"/>
<path d="M292.8 485.1 H298.2" fill="none" stroke="#21b2d6" stroke-width="1.8" stroke-linecap="round" stroke-linejoin="round"/>
<rect x="293.5" y="485.5" width="4" height="4" fill="#21b2d6"/>
<path d="M295.8 499.3 L300.4 496" fill="none" stroke="#21b2d6" stroke-width="1.9" stroke-linecap="round" stroke-linejoin="round"/>
<circle cx="487.5" cy="499.6" r="10.1" fill="none" stroke="#21b2d6" stroke-width="2.4"/>
<path d="M484.8 485.1 H490.2" fill="none" stroke="#21b2d6" stroke-width="1.8" stroke-linecap="round" stroke-linejoin="round"/>
<rect x="485.5" y="485.5" width="4" height="4" fill="#21b2d6"/>
<path d="M484.4 496.5 L490.6 502.7 M490.6 496.5 L484.4 502.7" fill="none" stroke="#21b2d6" stroke-width="1.9" stroke-linecap="round" stroke-linejoin="round"/>
<g transform="translate(0,0)"><path d="M709 484.4 H725.2 Q725.4 491 722.6 495 Q720.6 497.8 718.8 499.2 V503 Q719.2 504.4 721.3 504.8 V507 H712.5 V504.8 Q714.8 504.4 715.3 503 V499.2 Q713.4 497.8 711.5 495 Q708.8 491 709 484.4 Z" fill="#21b2d6"/><path d="M709.3 485.3 H704.9 Q704.9 492.5 711.3 496.3 M724.9 485.3 H729.4 Q729.4 492.5 722.9 496.3" fill="none" stroke="#21b2d6" stroke-width="1.5"/><polygon points="717.10,489.30 718.22,490.96 720.14,491.51 718.91,493.09 718.98,495.09 717.10,494.40 715.22,495.09 715.29,493.09 714.06,491.51 715.98,490.96" fill="#eafaff"/></g>
<g transform="translate(181.6,0)"><path d="M709 484.4 H725.2 Q725.4 491 722.6 495 Q720.6 497.8 718.8 499.2 V503 Q719.2 504.4 721.3 504.8 V507 H712.5 V504.8 Q714.8 504.4 715.3 503 V499.2 Q713.4 497.8 711.5 495 Q708.8 491 709 484.4 Z" fill="#21b2d6"/><path d="M709.3 485.3 H704.9 Q704.9 492.5 711.3 496.3 M724.9 485.3 H729.4 Q729.4 492.5 722.9 496.3" fill="none" stroke="#21b2d6" stroke-width="1.5"/><polygon points="717.10,489.30 718.22,490.96 720.14,491.51 718.91,493.09 718.98,495.09 717.10,494.40 715.22,495.09 715.29,493.09 714.06,491.51 715.98,490.96" fill="#eafaff"/></g>
<path d="M725 502.2 A3.8 3.8 0 0 1 732 501.5 M732 504.2 A3.8 3.8 0 0 1 725 504.9" fill="none" stroke="#3fb4c4" stroke-width="1.6" stroke-linecap="round" stroke-linejoin="round"/>
<path d="M907.2 501.6 L912.6 506.8 M912.6 501.6 L907.2 506.8" fill="none" stroke="#21b2d6" stroke-width="1.7" stroke-linecap="round" stroke-linejoin="round"/>
<rect x="921.2" y="747.3" width="14.4" height="13.7" rx="6.6" ry="6.6" fill="none" stroke="#363b48" stroke-width="2.3"/><rect x="948.2" y="747.3" width="14.4" height="13.7" rx="6.6" ry="6.6" fill="none" stroke="#363b48" stroke-width="2.3"/><rect x="966.9" y="747.3" width="14.4" height="13.7" rx="6.6" ry="6.6" fill="none" stroke="#363b48" stroke-width="2.3"/><rect x="985.2" y="747.3" width="13.8" height="13.7" rx="6.6" ry="6.6" fill="none" stroke="#363b48" stroke-width="2.3"/>
<path d="M929 747.3 H945.6 L938 761 H955" fill="none" stroke="#363b48" stroke-width="2.3" stroke-linecap="round" stroke-linejoin="round"/>
<path d="M966.9 742.6 V754" fill="none" stroke="#363b48" stroke-width="2.3" stroke-linecap="round" stroke-linejoin="round"/>
<path d="M1001.6 742.6 V756 Q1001.6 761 1006.4 761 H1007.6 M992 747.3 H1005.6" fill="none" stroke="#363b48" stroke-width="2.3" stroke-linecap="round" stroke-linejoin="round"/>
<circle cx="1008.8" cy="747.3" r="0.9" fill="#45c4de"/>
</svg>
</body></html>
